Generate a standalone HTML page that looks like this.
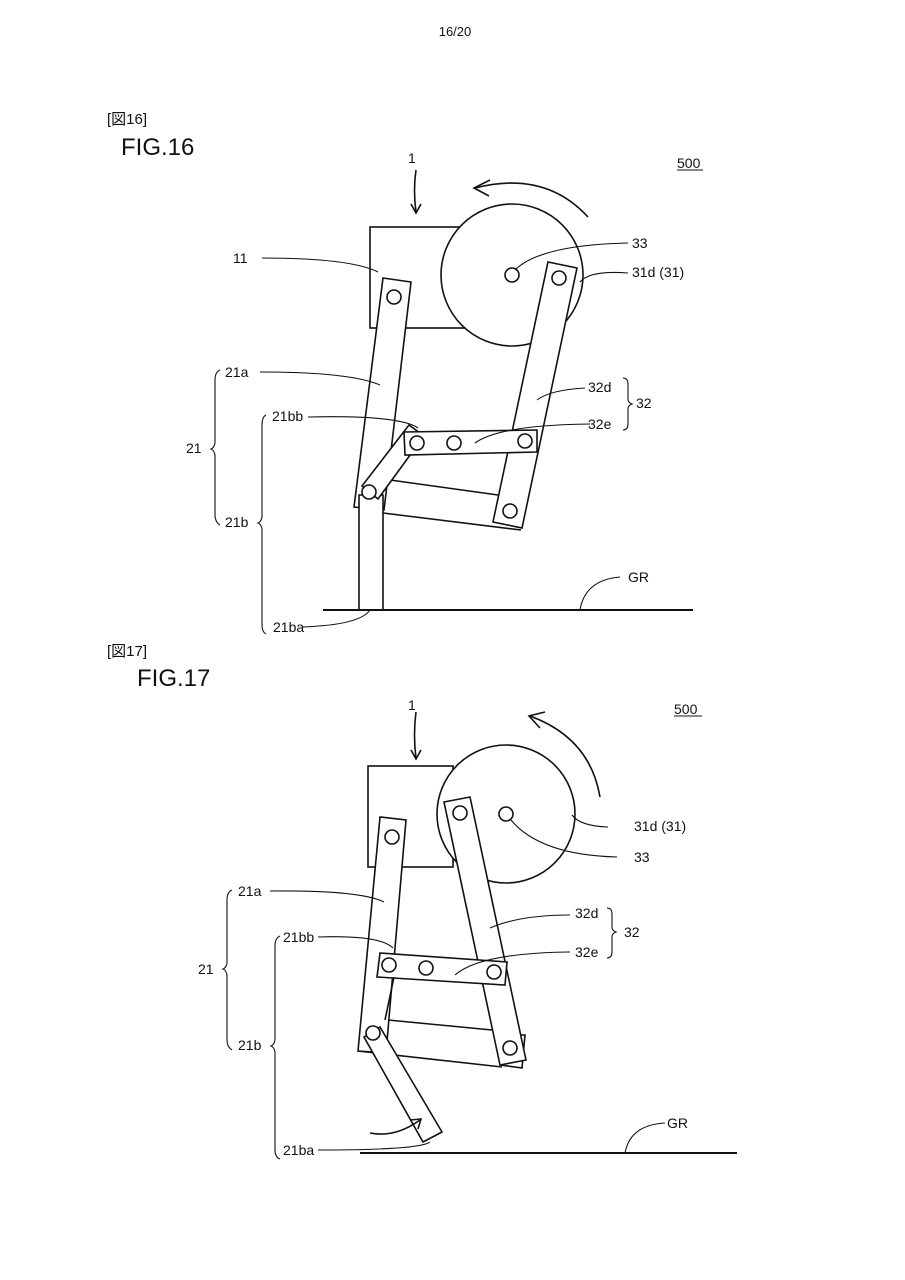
<!DOCTYPE html>
<html><head><meta charset="utf-8"><style>
body{margin:0;background:#fff}
svg{display:block}
text{font-family:"Liberation Sans","Noto Sans CJK JP",sans-serif;fill:#111}
</style></head><body>
<svg width="905" height="1280" viewBox="0 0 905 1280" xmlns="http://www.w3.org/2000/svg">
<g fill="none" stroke="#111" stroke-width="1.6">
<!-- header -->
</g>
<text x="455" y="36" font-size="13" text-anchor="middle" font-family="Liberation Mono">16/20</text>
<text x="107" y="124" font-size="15">[図16]</text>
<text x="121" y="155" font-size="24">FIG.16</text>
<text x="107" y="656" font-size="15">[図17]</text>
<text x="137" y="686" font-size="24">FIG.17</text>

<!-- FIG 16 -->
<g fill="none" stroke="#111" stroke-width="1.6">
<rect x="370" y="227" width="95" height="101" fill="#fff"/>
<circle cx="512" cy="275" r="71" fill="#fff"/>
<circle cx="512" cy="275" r="7"/>
<!-- crossbars -->
<line x1="390" y1="480" x2="498" y2="495"/>
<line x1="383" y1="513" x2="521" y2="530"/>
<!-- thigh -->
<polygon points="383,278 411,282 384,510 354,507" fill="#fff"/>
<circle cx="394" cy="297" r="7"/>
<!-- lower leg -->
<polygon points="359,495 383,495 383,610 359,610" fill="#fff"/>
<polygon points="362,486 409,425 424,436 378,499" fill="#fff"/>
<circle cx="369" cy="492" r="7" fill="#fff"/>
<!-- shin -->
<polygon points="548,262 577,268 522,528 493,522" fill="#fff"/>
<circle cx="559" cy="278" r="7"/>
<circle cx="510" cy="511" r="7"/>
<!-- plate -->
<polygon points="404,432 537,430 537,452 405,455" fill="#fff"/>
<circle cx="417" cy="443" r="7"/><circle cx="454" cy="443" r="7"/><circle cx="525" cy="441" r="7"/>
<!-- ground -->
<line x1="323" y1="610" x2="693" y2="610" stroke-width="2"/>
<!-- arrows -->
<path d="M588,217 Q545,170 475,188"/>
<path d="M490,180 L474,188 L489,196"/>
<path d="M416,170 Q413,190 416,212"/>
<path d="M411,204 L416,213 L421,204"/>
<!-- leaders -->
<path d="M262,258 Q350,258 378,272" stroke-width="1.1"/>
<path d="M628,243 Q540,245 515,270" stroke-width="1.1"/>
<path d="M628,273 Q590,270 580,282" stroke-width="1.1"/>
<path d="M260,372 Q350,372 380,385" stroke-width="1.1"/>
<path d="M585,388 Q550,390 537,400" stroke-width="1.1"/>
<path d="M590,424 Q500,425 475,443" stroke-width="1.1"/>
<path d="M308,417 Q400,415 418,428" stroke-width="1.1"/>
<path d="M302,627 Q360,625 370,610" stroke-width="1.1"/>
<path d="M620,577 Q585,580 580,610" stroke-width="1.1"/>
<!-- braces -->
<path d="M220,370 Q215,372 215,380 L215,443 Q214,448 211,449 Q214,450 215,455 L215,515 Q215,522 220,525" stroke-width="1.1"/>
<path d="M266,415 Q262,417 262,425 L262,517 Q261,522 258,523 Q261,524 262,529 L262,625 Q262,632 266,634" stroke-width="1.1"/>
<path d="M623,378 Q628,378 628,384 L628,400 Q629,403 632,404 Q629,405 628,408 L628,424 Q628,430 623,430" stroke-width="1.1"/>
<line x1="677" y1="170" x2="703" y2="170" stroke-width="1.1"/>
</g>
<g font-size="14">
<text x="408" y="163">1</text>
<text x="677" y="168">500</text>
<text x="233" y="263">11</text>
<text x="632" y="248">33</text>
<text x="632" y="277">31d (31)</text>
<text x="225" y="377">21a</text>
<text x="588" y="392">32d</text>
<text x="636" y="408">32</text>
<text x="272" y="421">21bb</text>
<text x="588" y="429">32e</text>
<text x="186" y="453">21</text>
<text x="225" y="527">21b</text>
<text x="628" y="582">GR</text>
<text x="273" y="632">21ba</text>
</g>

<!-- FIG 17 -->
<g fill="none" stroke="#111" stroke-width="1.6">
<rect x="368" y="766" width="85" height="101" fill="#fff"/>
<circle cx="506" cy="814" r="69" fill="#fff"/>
<circle cx="506" cy="814" r="7"/>
<line x1="388" y1="1020" x2="492" y2="1030"/>
<line x1="358" y1="1051" x2="502" y2="1067"/>
<polyline points="518,1035 525,1035 522,1068 500,1065"/>
<!-- thigh -->
<polygon points="380,817 406,820 386,1053 358,1051" fill="#fff"/>
<circle cx="392" cy="837" r="7"/>
<!-- shin -->
<polygon points="444,802 470,797 526,1060 500,1065" fill="#fff"/>
<circle cx="460" cy="813" r="7"/>
<circle cx="510" cy="1048" r="7"/>
<!-- plate -->
<polygon points="380,953 507,962 505,985 377,977" fill="#fff"/>
<circle cx="389" cy="965" r="7"/><circle cx="426" cy="968" r="7"/><circle cx="494" cy="972" r="7"/>
<!-- lower leg -->
<line x1="394" y1="977" x2="385" y2="1020"/>
<polygon points="364,1037 380,1027 442,1132 423,1142" fill="#fff"/>
<circle cx="373" cy="1033" r="7" fill="#fff"/>
<!-- ground -->
<line x1="360" y1="1153" x2="737" y2="1153" stroke-width="2"/>
<!-- arrows -->
<path d="M600,797 Q590,738 530,716"/>
<path d="M545,712 L529,716 L540,728"/>
<path d="M370,1133 Q395,1138 420,1120"/>
<path d="M410,1120 L421,1119 L418,1129"/>
<path d="M416,712 Q413,735 416,758"/>
<path d="M411,750 L416,759 L421,750"/>
<!-- leaders -->
<path d="M270,891 Q360,890 384,902" stroke-width="1.1"/>
<path d="M608,827 Q580,826 572,815" stroke-width="1.1"/>
<path d="M617,857 Q540,855 511,820" stroke-width="1.1"/>
<path d="M570,915 Q520,915 490,928" stroke-width="1.1"/>
<path d="M570,952 Q480,953 455,975" stroke-width="1.1"/>
<path d="M318,937 Q380,935 393,948" stroke-width="1.1"/>
<path d="M318,1150 Q420,1150 430,1142" stroke-width="1.1"/>
<path d="M665,1123 Q630,1125 625,1153" stroke-width="1.1"/>
<!-- braces -->
<path d="M232,890 Q227,892 227,900 L227,963 Q226,968 223,969 Q226,970 227,975 L227,1040 Q227,1047 232,1050" stroke-width="1.1"/>
<path d="M280,936 Q275,938 275,946 L275,1040 Q274,1045 271,1046 Q274,1047 275,1052 L275,1150 Q275,1157 280,1159" stroke-width="1.1"/>
<path d="M607,908 Q612,908 612,914 L612,928 Q613,931 616,932 Q613,933 612,936 L612,952 Q612,958 607,958" stroke-width="1.1"/>
<line x1="674" y1="716" x2="702" y2="716" stroke-width="1.1"/>
</g>
<g font-size="14">
<text x="408" y="710">1</text>
<text x="674" y="714">500</text>
<text x="634" y="831">31d (31)</text>
<text x="634" y="862">33</text>
<text x="238" y="896">21a</text>
<text x="575" y="918">32d</text>
<text x="624" y="937">32</text>
<text x="283" y="942">21bb</text>
<text x="575" y="957">32e</text>
<text x="198" y="974">21</text>
<text x="238" y="1050">21b</text>
<text x="283" y="1155">21ba</text>
<text x="667" y="1128">GR</text>
</g>
</svg>
</body></html>
